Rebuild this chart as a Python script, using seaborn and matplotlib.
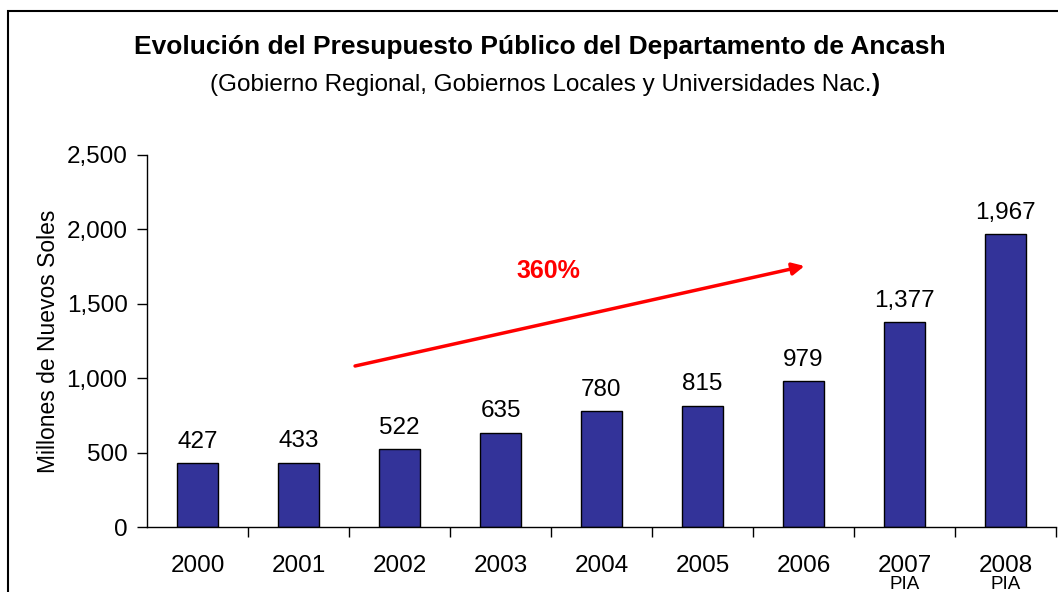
import matplotlib
matplotlib.use("Agg")
import matplotlib.pyplot as plt
import seaborn as sns
import pandas as pd
from matplotlib.patches import Rectangle

years = ["2000", "2001", "2002", "2003", "2004", "2005", "2006", "2007", "2008"]
sublabels = ["", "", "", "", "", "", "", "PIA", "PIA"]
values = [427, 433, 522, 635, 780, 815, 979, 1377, 1967]
yticks = [0, 500, 1000, 1500, 2000, 2500]

sns.set_theme(style="white")
plt.rcParams['font.family'] = ['Liberation Sans', 'DejaVu Sans']
plt.rcParams['text.color'] = 'black'
plt.rcParams['axes.labelcolor'] = 'black'
plt.rcParams['xtick.color'] = 'black'
plt.rcParams['ytick.color'] = 'black'

df = pd.DataFrame({"year": years, "value": values})

fig = plt.figure(figsize=(10.58, 5.92), dpi=100)
ax = fig.add_axes([147/1058, 1-527/592, (1056-147)/1058, (527-155)/592])

sns.barplot(data=df, x="year", y="value", ax=ax, color="#333399", saturation=1,
            width=0.4, edgecolor="black", linewidth=1.0)

FS = 17.5
ax.set_ylim(0, 2500)
ax.set_xlim(-0.5, len(years) - 0.5)
ax.set_yticks(yticks)
ax.set_yticklabels([f"{v:,}" for v in yticks], fontsize=FS)
ax.set_xticks(range(len(years)))
ax.set_xticklabels(years, fontsize=FS)
ax.tick_params(axis="x", which="major", length=0, pad=20)
ax.tick_params(axis="y", length=7, width=1, color="black", direction="out", left=True, pad=7)
ax.set_xticks([i - 0.5 for i in range(1, len(years) + 1)], minor=True)
ax.tick_params(axis="x", which="minor", length=7, width=1, color="black", direction="out", bottom=True)

for s in ["top", "right"]:
    ax.spines[s].set_visible(False)
for s in ["left", "bottom"]:
    ax.spines[s].set_color("black")
    ax.spines[s].set_linewidth(1.0)

ax.set_xlabel("")
ax.set_ylabel("Millones de Nuevos Soles", fontsize=16.5, labelpad=5)

for i, sub in enumerate(sublabels):
    if sub:
        ax.annotate(sub, xy=(i, 0), xycoords=("data", "axes fraction"), xytext=(0, -35),
                    textcoords="offset points", ha="center", va="top", fontsize=13.5,
                    annotation_clip=False)

for i, v in enumerate(values):
    ax.annotate(f"{v:,}", xy=(i, v), xytext=(0, 11), textcoords="offset points",
                ha="center", va="baseline", fontsize=FS, color="black")

ax.annotate("", xy=(6.01, 1754), xytext=(1.56, 1082),
            arrowprops=dict(arrowstyle="-|>", color="red", lw=2.5, mutation_scale=18,
                            shrinkA=0, shrinkB=0))
ax.text(3.47, 1720, "360%", color="red", fontsize=18, fontweight="bold",
        ha="center", va="center")

fig.text(540/1058, 1-47/592, "Evolución del Presupuesto Público del Departamento de Ancash",
         ha="center", va="center", fontsize=19, fontweight="bold")
sub = fig.text(541/1058, 1-85/592, "(Gobierno Regional, Gobiernos Locales y Universidades Nac.",
               ha="center", va="center", fontsize=17.5)
fig.add_artist(matplotlib.text.Annotation(")", xy=(1, 0), xycoords=sub, ha="left", va="bottom",
                                          fontsize=17.5, fontweight="bold"))

fig.add_artist(Rectangle((8/1058, -0.1), 1.2, 1.1 - 11/592, transform=fig.transFigure,
                         fill=False, edgecolor="black", linewidth=1.5))

fig.savefig("out.png", dpi=100)
